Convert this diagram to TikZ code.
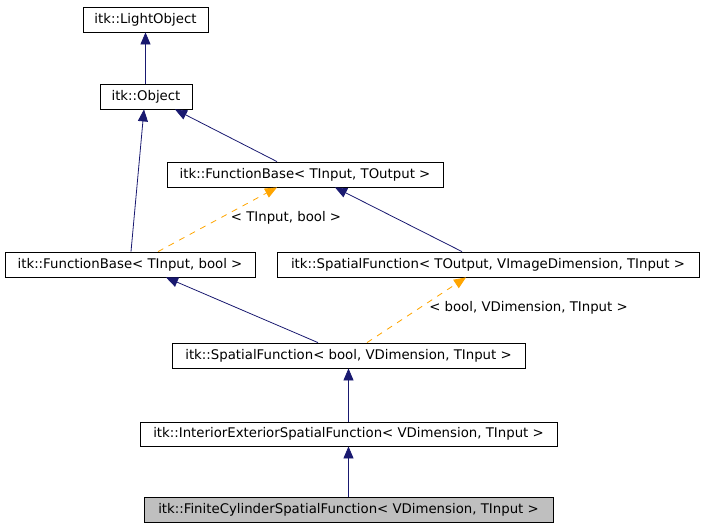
\documentclass[tikz,border=0pt]{standalone}
\usepackage{fontspec}
\setmainfont{DejaVu Sans}
\usetikzlibrary{arrows.meta}
\definecolor{navy}{RGB}{25,25,112}
\definecolor{edgeorange}{RGB}{255,165,0}
\definecolor{grayfill}{RGB}{191,191,191}
\begin{document}
\begin{tikzpicture}[x=1pt,y=-1pt,
  cls/.style={draw=black, line width=0.8pt, fill=white, minimum height=25pt, inner sep=0pt,
              font=\fontsize{13.3}{15}\selectfont, anchor=center},
  inh/.style={draw=navy, line width=0.8pt, -{Triangle[length=12pt,width=10pt]}},
  tmpl/.style={draw=edgeorange, line width=0.8pt, dash pattern=on 6pt off 6pt,
               -{Triangle[length=12pt,width=10pt]}},
  lbl/.style={font=\fontsize{13.3}{15}\selectfont, inner sep=0pt}]
\useasboundingbox (0,0) rectangle (704,528);

\node[cls, minimum width=125pt] (light) at (145.5,19.5) {itk::LightObject};
\node[cls, minimum width=92pt] (obj) at (146,96.5) {itk::Object};
\node[cls, minimum width=276pt] (fbto) at (305,174.5) {itk::FunctionBase< TInput, TOutput >};
\node[cls, minimum width=250pt] (fbbool) at (130,264.5) {itk::FunctionBase< TInput, bool >};
\node[cls, minimum width=422pt] (sfto) at (488,264.5) {itk::SpatialFunction< TOutput, VImageDimension, TInput >};
\node[cls, minimum width=353pt] (sfbool) at (348.5,355.5) {itk::SpatialFunction< bool, VDimension, TInput >};
\node[cls, minimum width=417pt, minimum height=24pt] (ie) at (348.5,434) {itk::InteriorExteriorSpatialFunction< VDimension, TInput >};
\node[cls, minimum width=409pt, fill=grayfill] (fc) at (348.5,509.5) {itk::FiniteCylinderSpatialFunction< VDimension, TInput >};

\draw[inh] ([xshift=-0.5pt]obj.north) -- (light.south);
\draw[inh] ([xshift=-28pt]fbto.north) -- ([xshift=29pt]obj.south);
\draw[inh] ([xshift=1pt]fbbool.north) -- ([xshift=-2pt]obj.south);
\draw[tmpl] ([xshift=28pt]fbbool.north) -- ([xshift=-28pt]fbto.south);
\draw[inh] ([xshift=-26pt]sfto.north) -- ([xshift=30pt]fbto.south);
\draw[inh] ([xshift=-30.5pt]sfbool.north) -- ([xshift=36pt]fbbool.south);
\draw[tmpl] ([xshift=18.5pt]sfbool.north) -- ([xshift=-22pt]sfto.south);
\draw[inh] (ie.north) -- (sfbool.south);
\draw[inh] (fc.north) -- (ie.south);

\node[lbl] (l1) at (286,218) {< TInput, bool >};
\node[lbl] (l2) at (528.5,308) {< bool, VDimension, TInput >};
\end{tikzpicture}
\end{document}
